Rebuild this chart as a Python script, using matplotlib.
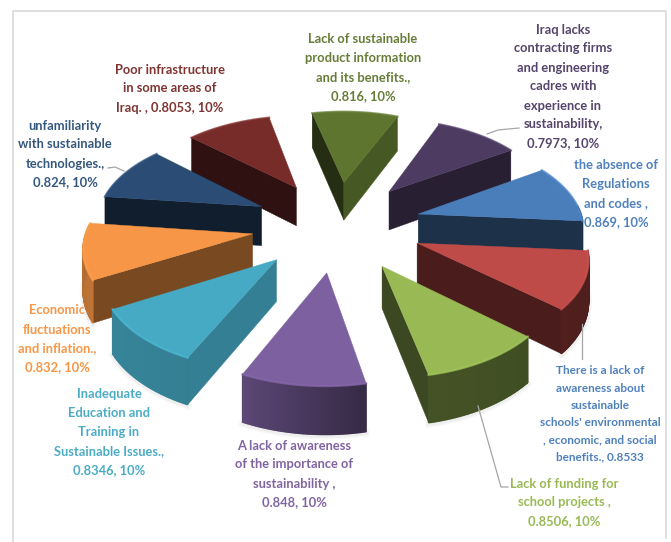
import numpy as np
import matplotlib
matplotlib.use("Agg")
import matplotlib.pyplot as plt
from matplotlib.colors import to_rgb

# Barriers to sustainable school buildings, clockwise from the first slice
values = [0.869, 0.8533, 0.8506, 0.848, 0.8346, 0.832, 0.824, 0.8053, 0.816, 0.7973]
colors = ["#4A7EBB", "#BE4B48", "#98B954", "#7D60A0", "#46AAC4",
          "#F79646", "#2A4C75", "#772C2A", "#5E7530", "#4D3B62"]
label_colors = ["#4F81BD", "#4F81BD", "#98B954", "#8064A2", "#4BACC6",
                "#F79646", "#35587F", "#7F3432", "#667D38", "#55446B"]
labels = [
    "the absence of\nRegulations\nand codes ,\n0.869, 10%",
    "There is a lack of\nawareness about\nsustainable\nschools' environmental\n, economic, and social\nbenefits., 0.8533",
    "Lack of funding for\nschool projects ,\n0.8506, 10%",
    "A lack of awareness\nof the importance of\nsustainability ,\n0.848, 10%",
    "Inadequate\nEducation and\nTraining in\nSustainable Issues.,\n0.8346, 10%",
    "Economic\nfluctuations\nand inflation.,\n0.832, 10%",
    "unfamiliarity\nwith sustainable\ntechnologies.,\n0.824, 10%",
    "Poor infrastructure\nin some areas of\nIraq. , 0.8053, 10%",
    "Lack of sustainable\nproduct information\nand its benefits.,\n0.816, 10%",
    "Iraq lacks\ncontracting firms\nand engineering\ncadres with\nexperience in\nsustainability,\n0.7973, 10%",
]
label_xy = [(616, 193.5), (600, 414), (564, 502.5), (294, 474), (109, 432),
            (57, 339), (65, 154), (170, 88.5), (363, 67.5), (563, 86.5)]
label_sizes = [9.3, 8.5, 9.3, 9.3, 9.3, 9.3, 9.3, 9.3, 9.3, 9.3]
leaders = [
    [(108, 168), (115, 167), (124, 171)],
    [(519, 128), (498, 130), (487, 134)],
    [(582, 324), (582, 359)],
    [(478, 406), (501, 487), (508, 487)],
]

# Pie geometry and perspective
CX, CY = 337, 225
RADIUS, EXPLODE, DEPTH = 165, 85, 40
SQUASH, PERSP = 0.533, 0.0007
START_ANGLE = 33


def project(u, v, z=0.0):
    w = 1 + PERSP * np.asarray(v, float)
    return CX + np.asarray(u, float) / w, CY + (z - SQUASH * np.asarray(v, float)) / w


def shade(color, f):
    return tuple(min(1, c * f) for c in to_rgb(color))


def radial_shade(normal_deg):
    c = max(0.0, np.cos(np.radians(normal_deg + 25)))
    return 0.39 + 0.36 * c ** 6


def rim_shade(normal_deg):
    a = normal_deg % 360
    if a < 90:
        a += 360
    return np.interp(a, [180, 210, 244, 280, 319, 360, 400], [0.72, 0.78, 0.75, 0.45, 0.42, 0.40, 0.40])


fig = plt.figure(figsize=(6.71, 5.42), dpi=100, facecolor="white")
ax = fig.add_axes([0, 0, 1, 1])
ax.set_xlim(0, 671)
ax.set_ylim(542, 0)
ax.axis("off")

# Chart frame, open past the bottom edge
ax.plot([13, 13, 666, 666], [560, 10.5, 10.5, 538], color="#D9D9D9", lw=1.2, zorder=1)

shares = np.array(values) / sum(values) * 360
ends = START_ANGLE - np.cumsum(shares)
starts = ends + shares
mids = (starts + ends) / 2

# Far slices are painted first so nearer ones overlap them
order = np.argsort(-np.sin(np.radians(mids)))
z = 2
for i in order:
    hi, lo, mid = starts[i], ends[i], mids[i]
    ox = EXPLODE * np.cos(np.radians(mid))
    oy = EXPLODE * np.sin(np.radians(mid))
    theta = np.radians(np.linspace(hi, lo, 60))
    au = ox + RADIUS * np.cos(theta)
    av = oy + RADIUS * np.sin(theta)

    xt, yt = project(au, av)
    xb, yb = project(au, av, DEPTH)

    # Faint contact shadow under the front of the slice
    front = np.sin(theta) < -0.1
    if front.any():
        for lw, alpha in ((5, 0.05), (3, 0.07)):
            ax.plot(xb[front], yb[front] + 1.5, color="#808080", lw=lw, alpha=alpha, zorder=z)

    for edge, normal in ((hi, hi + 90), (lo, lo - 90)):
        eu = ox + RADIUS * np.cos(np.radians(edge))
        ev = oy + RADIUS * np.sin(np.radians(edge))
        if np.sin(np.radians(normal)) < 0:
            xr, yr = project([ox, eu], [oy, ev])
            xs, ys = project([ox, eu], [oy, ev], DEPTH)
            ax.fill(np.r_[xr, xs[::-1]], np.r_[yr, ys[::-1]],
                    color=shade(colors[i], radial_shade(normal)), lw=0.3, zorder=z)
    z += 1

    # Curved outer wall, split into narrow strips for a smooth shade
    for j in range(len(theta) - 1):
        normal = np.degrees(theta[j])
        if np.sin(theta[j]) < 0.1:
            ax.fill([xt[j], xt[j + 1], xb[j + 1], xb[j]],
                    [yt[j], yt[j + 1], yb[j + 1], yb[j]],
                    color=shade(colors[i], rim_shade(normal)), lw=1.0, zorder=z)
    z += 1

    # Top surface and bevel highlight along its outer arc
    xa, ya = project(ox, oy)
    ax.fill(np.r_[xa, xt], np.r_[ya, yt], color=colors[i], lw=0.3, zorder=z)
    ax.plot(xt, yt, color=shade(colors[i], 1.08), lw=1.6, alpha=0.7, zorder=z)
    z += 1

for pts in leaders:
    xs, ys = zip(*pts)
    ax.plot(xs, ys, color="#A6A6A6", lw=0.9, zorder=z)
z += 1

for text, (x, y), color, size in zip(labels, label_xy, label_colors, label_sizes):
    ax.text(x, y, text, color=color, ha="center", va="center", ma="center",
            family=["Lato", "DejaVu Sans"], weight="bold", fontsize=size,
            linespacing=1.7, zorder=z)

fig.savefig("out.png", dpi=100)
